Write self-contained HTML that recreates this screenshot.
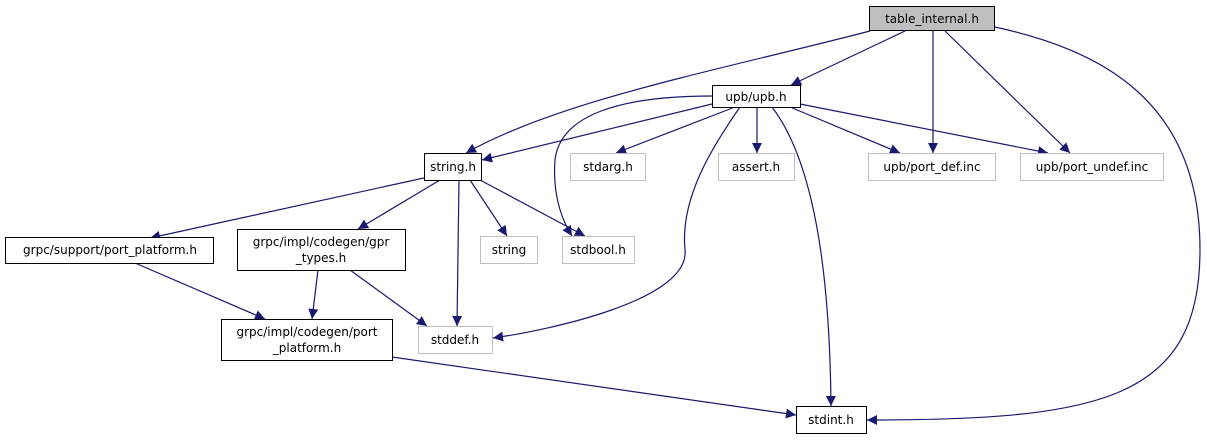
<!DOCTYPE html>
<html><head><meta charset="utf-8"><style>
html,body{margin:0;padding:0;background:#fff;}
svg text{font-family:"DejaVu Sans","Liberation Sans",sans-serif;font-size:12px;fill:#000;}
</style></head><body>
<svg width="1207" height="440" viewBox="0 0 1207 440" xmlns="http://www.w3.org/2000/svg">
<defs><marker id="a" viewBox="0 0 10 10" refX="10" refY="5" markerWidth="12" markerHeight="10" markerUnits="userSpaceOnUse" orient="auto"><path d="M0,0 L10,5 L0,10 z" fill="#191970"/></marker></defs>
<g fill="none" stroke="#191970" stroke-width="1.2" marker-end="url(#a)">
<path d="M905,31 L791,85"/>
<path d="M870,31 C720,70 560,100 466,153"/>
<path d="M933,31 L933,153"/>
<path d="M945,31 L1070,153"/>
<path d="M995,27 C1100,50 1200,100 1200,250 C1200,400 1100,420 867,420"/>
<path d="M712,96 C620,96 560,115 555,160 C552,200 565,225 572,236"/>
<path d="M712,104 L482,160"/>
<path d="M735,107 L616,153"/>
<path d="M757,107 L757,153"/>
<path d="M740,107 C710,150 680,200 685,250 C690,300 550,330 493,338"/>
<path d="M772,107 C820,170 830,300 831,406"/>
<path d="M790,107 L900,153"/>
<path d="M800,104 L1048,153"/>
<path d="M424,178 L150,238"/>
<path d="M440,180 L358,229"/>
<path d="M459,180 L457,326"/>
<path d="M470,180 L507,236"/>
<path d="M480,180 L585,236"/>
<path d="M135,263 L265,319"/>
<path d="M318,270 L312,319"/>
<path d="M350,270 L427,326"/>
<path d="M392,357 L796,415"/>
</g>
<g stroke-width="1">
<rect x="869.5" y="6.5" width="125" height="24" fill="#bfbfbf" stroke="#000"/>
<rect x="712.5" y="85.5" width="88" height="22" fill="#fff" stroke="#000"/>
<rect x="424.5" y="153.5" width="57" height="27" fill="#fff" stroke="#000"/>
<rect x="570.5" y="153.5" width="75" height="27" fill="#fff" stroke="#bfbfbf"/>
<rect x="718.5" y="153.5" width="76" height="27" fill="#fff" stroke="#bfbfbf"/>
<rect x="868.5" y="153.5" width="127" height="27" fill="#fff" stroke="#bfbfbf"/>
<rect x="1020.5" y="153.5" width="143" height="27" fill="#fff" stroke="#bfbfbf"/>
<rect x="5.5" y="237.5" width="208" height="26" fill="#fff" stroke="#000"/>
<rect x="237.5" y="229.5" width="168" height="41" fill="#fff" stroke="#000"/>
<rect x="480.5" y="236.5" width="57" height="27" fill="#fff" stroke="#bfbfbf"/>
<rect x="562.5" y="236.5" width="72" height="27" fill="#fff" stroke="#bfbfbf"/>
<rect x="221.5" y="319.5" width="171" height="41" fill="#fff" stroke="#000"/>
<rect x="418.5" y="326.5" width="74" height="27" fill="#fff" stroke="#bfbfbf"/>
<rect x="796.5" y="406.5" width="70" height="27" fill="#fff" stroke="#000"/>
</g>
<g text-anchor="middle">
<text x="932" y="23">table_internal.h</text>
<text x="756" y="101">upb/upb.h</text>
<text x="453" y="171">string.h</text>
<text x="608" y="171">stdarg.h</text>
<text x="756" y="171">assert.h</text>
<text x="932" y="171">upb/port_def.inc</text>
<text x="1092" y="171">upb/port_undef.inc</text>
<text x="110" y="254">grpc/support/port_platform.h</text>
<text x="321" y="246">grpc/impl/codegen/gpr</text>
<text x="321" y="262">_types.h</text>
<text x="509" y="254">string</text>
<text x="598" y="254">stdbool.h</text>
<text x="307" y="336">grpc/impl/codegen/port</text>
<text x="307" y="352">_platform.h</text>
<text x="455" y="344">stddef.h</text>
<text x="831" y="424">stdint.h</text>
</g>
</svg>
</body></html>
